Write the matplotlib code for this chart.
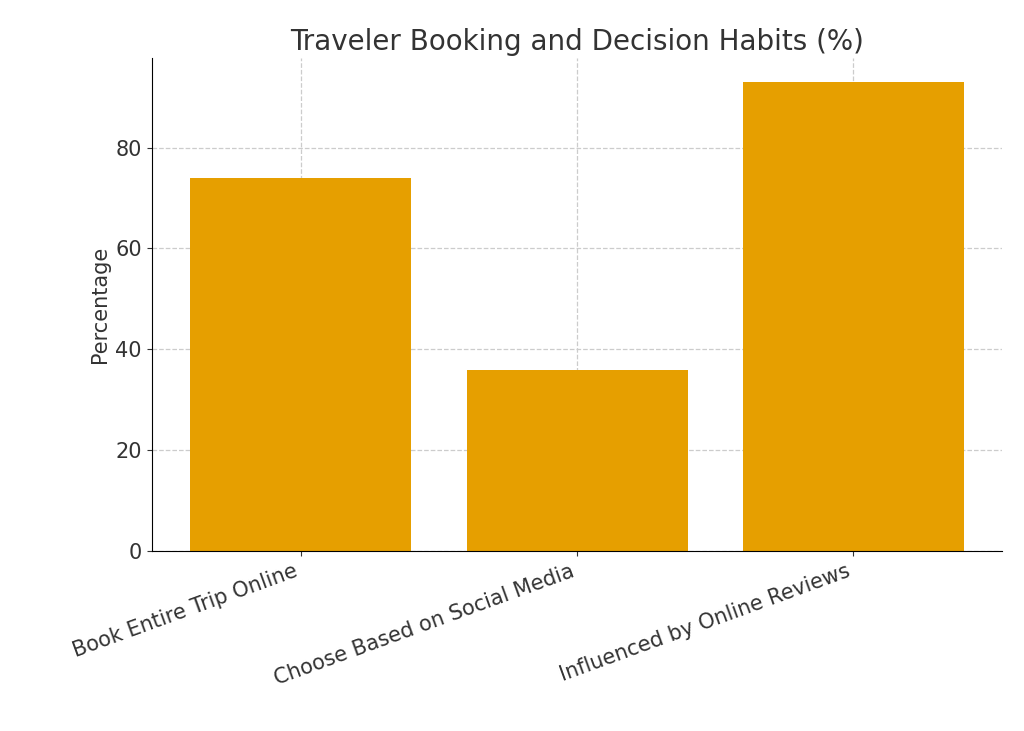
import matplotlib
matplotlib.use("Agg")
import matplotlib.pyplot as plt

categories = ["Book Entire Trip Online", "Choose Based on Social Media", "Influenced by Online Reviews"]
values = [74, 36, 93]

fig = plt.figure(figsize=(10.24, 7.31), dpi=100)
ax = fig.add_axes([0.148, 0.246, 0.831, 0.674])
ax.bar(categories, values, color="#E69F00", width=0.8, zorder=2)
ax.set_title("Traveler Booking and Decision Habits (%)", fontsize=20, color="#333333")
ax.set_ylabel("Percentage", fontsize=15, color="#333333")
ax.grid(True, linestyle="--", color="#cccccc", linewidth=0.9, zorder=0)
ax.spines["top"].set_visible(False)
ax.spines["right"].set_visible(False)
ax.tick_params(labelsize=15, colors="#333333")
plt.setp(ax.get_xticklabels(), rotation=20, ha="right")
fig.savefig("out.png", dpi=100)
